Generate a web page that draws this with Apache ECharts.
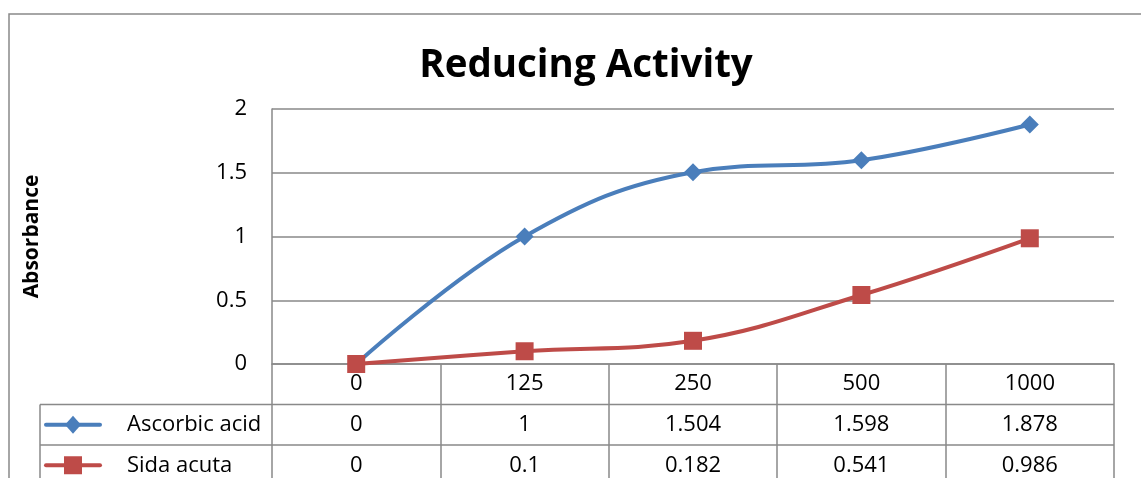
<!DOCTYPE html>
<html>
<head>
<meta charset="utf-8">
<script src="https://cdn.jsdelivr.net/npm/echarts@6/dist/echarts.min.js"></script>
<style>
  html, body { margin: 0; padding: 0; background: #fff; }
  #chart { width: 1141px; height: 478px; }
</style>
</head>
<body>
<div id="chart"></div>
<script>
// Concentrations (x categories) and absorbance readings
const categories = ['0', '125', '250', '500', '1000'];
const ascorbicAcid = [0, 1, 1.504, 1.598, 1.878];
const sidaAcuta = [0, 0.1, 0.182, 0.541, 0.986];
const seriesNames = ['Ascorbic acid', 'Sida acuta'];
const yTicks = { min: 0, max: 2, interval: 0.5 };

const BLUE = '#4A7EBB';
const RED = '#BE4B48';
const GRAY = '#898989';
const FONT = '"Open Sans", "Noto Sans", sans-serif';

const chart = echarts.init(document.getElementById('chart'), null, { renderer: 'canvas' });

chart.setOption({
  backgroundColor: '#fff',
  animation: false,
  title: {
    text: 'Reducing Activity',
    left: 581, top: 42, textAlign: 'center',
    textStyle: { fontFamily: FONT, fontWeight: 'bold', fontSize: 38.5, color: '#000' }
  },
  grid: { left: 272, right: 27, top: 109, bottom: 114 },
  xAxis: {
    type: 'category',
    data: categories,
    boundaryGap: true,
    axisLine: { show: true, lineStyle: { color: GRAY, width: 1.5 } },
    axisTick: { show: true, length: 118, alignWithLabel: false, lineStyle: { color: GRAY, width: 1.5 } },
    axisLabel: { margin: 9, fontFamily: FONT, fontSize: 22, lineHeight: 22, color: '#000' },
    splitLine: { show: false }
  },
  yAxis: {
    type: 'value',
    min: yTicks.min, max: yTicks.max, interval: yTicks.interval,
    name: 'Absorbance',
    nameLocation: 'middle',
    nameRotate: 90,
    nameGap: 229,
    nameTextStyle: { fontFamily: FONT, fontWeight: 'bold', fontSize: 21, color: '#000' },
    axisLine: { show: true, lineStyle: { color: GRAY, width: 1.5 } },
    axisTick: { show: false },
    axisLabel: { margin: 25, fontFamily: FONT, fontSize: 22, color: '#000' },
    splitLine: { show: true, lineStyle: { color: GRAY, width: 1.5 } }
  },
  series: [
    {
      name: seriesNames[0], type: 'line', data: ascorbicAcid, smooth: 0.4,
      symbol: 'diamond', symbolSize: 18, showSymbol: true,
      lineStyle: { color: BLUE, width: 4 }, itemStyle: { color: BLUE }, z: 3
    },
    {
      name: seriesNames[1], type: 'line', data: sidaAcuta, smooth: 0.4,
      symbol: 'rect', symbolSize: 18, showSymbol: true,
      lineStyle: { color: RED, width: 4 }, itemStyle: { color: RED }, z: 4
    }
  ]
});

// Data table under the plot: rows aligned with the category axis
function buildTable() {
  const baseY = chart.convertToPixel({ yAxisIndex: 0 }, 0);
  const xRight = 1141 - 27;
  const tableLeft = 40;
  const rowH = 40.5;
  const rowTops = [baseY + rowH, baseY + 2 * rowH];
  const rowData = [ascorbicAcid, sidaAcuta];
  const colors = [BLUE, RED];
  const elements = [];

  // outer chart frame
  elements.push({
    type: 'rect', z: -1, silent: true,
    shape: { x: 9, y: 14, width: 1300, height: 700 },
    style: { fill: null, stroke: GRAY, lineWidth: 1.5 }
  });

  rowTops.forEach(function (top) {
    elements.push({
      type: 'line', silent: true,
      shape: { x1: tableLeft, y1: top, x2: xRight, y2: top },
      style: { stroke: GRAY, lineWidth: 1.5 }
    });
  });
  elements.push({
    type: 'line', silent: true,
    shape: { x1: tableLeft, y1: rowTops[0], x2: tableLeft, y2: 500 },
    style: { stroke: GRAY, lineWidth: 1.5 }
  });

  rowData.forEach(function (vals, r) {
    const cy = rowTops[r] + rowH / 2;
    // legend key
    elements.push({
      type: 'line', silent: true,
      shape: { x1: 46, y1: cy, x2: 100, y2: cy },
      style: { stroke: colors[r], lineWidth: 4, lineCap: 'round' }
    });
    if (r === 0) {
      elements.push({
        type: 'polygon', silent: true,
        shape: { points: [[73, cy - 9], [81, cy], [73, cy + 9], [65, cy]] },
        style: { fill: colors[r] }
      });
    } else {
      elements.push({
        type: 'rect', silent: true,
        shape: { x: 64, y: cy - 9, width: 18, height: 18 },
        style: { fill: colors[r] }
      });
    }
    elements.push({
      type: 'text', silent: true,
      style: {
        x: 127, y: cy, text: seriesNames[r], fill: '#000',
        font: '22px ' + FONT, align: 'left', verticalAlign: 'middle'
      }
    });
    vals.forEach(function (v, i) {
      elements.push({
        type: 'text', silent: true,
        style: {
          x: chart.convertToPixel({ xAxisIndex: 0 }, i), y: cy,
          text: String(v), fill: '#000',
          font: '22px ' + FONT, align: 'center', verticalAlign: 'middle'
        }
      });
    });
  });

  chart.setOption({ graphic: { elements: elements } });
}
buildTable();
</script>
</body>
</html>
